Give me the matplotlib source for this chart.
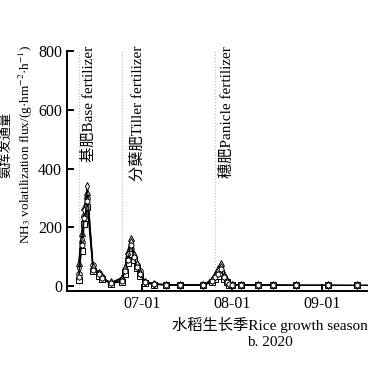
import numpy as np
import pandas as pd
import matplotlib
matplotlib.use('Agg')
import matplotlib.pyplot as plt
import matplotlib.dates as mdates

plt.rcParams['font.family'] = ['Liberation Serif', 'Noto Sans CJK SC']
plt.rcParams['mathtext.fontset'] = 'stix'

# sampling dates (2020 rice season)
dates = ['06-09', '06-10', '06-11', '06-12', '06-14', '06-16', '06-17', '06-20',
         '06-24', '06-25', '06-26', '06-27', '06-28', '06-29', '06-30', '07-02',
         '07-05', '07-09', '07-14', '07-22', '07-25', '07-26', '07-27', '07-28',
         '07-29', '07-30', '07-31', '08-01', '08-04', '08-10', '08-15', '08-23',
         '09-03', '09-13', '09-25', '10-08']

# NH3 flux of each treatment, g/(hm2·h)
flux_circle = [40, 150, 240, 300, 70, 45, 30, 10, 20, 55, 95, 125, 95, 70, 50, 15,
               8, 5, 3, 4, 15, 30, 45, 50, 30, 15, 6, 5, 5, 4, 3, 3, 3, 2, 2, 2]
flux_triangle = [80, 180, 270, 320, 60, 40, 25, 10, 30, 65, 120, 165, 110, 80, 40, 12,
                 6, 4, 3, 3, 25, 40, 60, 78, 40, 20, 8, 5, 4, 3, 3, 2, 2, 2, 2, 2]
flux_square = [20, 120, 210, 270, 50, 35, 25, 8, 15, 40, 80, 110, 90, 60, 35, 10,
               5, 4, 3, 3, 12, 25, 35, 45, 25, 12, 5, 4, 4, 3, 3, 2, 2, 2, 2, 2]
flux_diamond = [60, 160, 260, 340, 65, 45, 30, 12, 25, 60, 110, 150, 105, 75, 45, 14,
                7, 5, 3, 3, 20, 35, 50, 65, 35, 18, 7, 5, 4, 3, 3, 2, 2, 2, 2, 2]
flux_hexagon = [30, 140, 230, 290, 55, 40, 28, 9, 18, 50, 90, 140, 100, 65, 40, 12,
                6, 4, 3, 3, 18, 30, 40, 58, 30, 14, 6, 5, 4, 3, 3, 2, 2, 2, 2, 2]

series = [(flux_circle, 'o'), (flux_triangle, '^'), (flux_square, 's'),
          (flux_diamond, 'd'), (flux_hexagon, 'h')]

fert_dates = ['06-09', '06-24', '07-26']
fert_text_dates = ['06-12 12:00', '06-29 12:00', '07-30']
fert_labels = ['基肥Base fertilizer', '分蘖肥Tiller fertilizer', '穗肥Panicle fertilizer']

x = pd.to_datetime(['2020-' + d for d in dates])

fig = plt.figure(figsize=(3.68, 3.68), dpi=100)
ax = fig.add_axes([67 / 368, 77 / 368, 406 / 368, 240 / 368])

for vals, mk in series:
    ax.plot(x, vals, color='black', lw=0.8, marker=mk, ms=4,
            mfc='white', mec='black', mew=0.7)

for fd, td, lab in zip(fert_dates, fert_text_dates, fert_labels):
    ax.axvline(pd.Timestamp('2020-' + fd), color='#bbbbbb', ls=':', lw=0.8, zorder=0)
    ax.text(pd.Timestamp('2020-' + td), 818, lab, rotation=90, va='top', ha='center',
            fontsize=11, clip_on=False)

ax.set_xlim(pd.Timestamp('2020-06-05'), pd.Timestamp('2020-10-23'))
ax.set_ylim(-17, 800)
ax.set_yticks([0, 200, 400, 600, 800])
ax.xaxis.set_major_locator(mdates.MonthLocator(bymonth=[7, 8, 9, 10]))
ax.xaxis.set_major_formatter(mdates.DateFormatter('%m-%d'))

for s in ['top', 'right']:
    ax.spines[s].set_visible(False)
for s in ['left', 'bottom']:
    ax.spines[s].set_linewidth(1.4)
ax.tick_params(direction='in', length=5, width=1.4, labelsize=11.5)

ax.set_ylabel('氨挥发通量\nNH$_3$ volatilization flux/(g·hm$^{-2}$·h$^{-1}$)',
              fontsize=9.5, linespacing=1.4)
ax.yaxis.set_label_coords(-0.078, 0.61)
ax.set_xlabel('水稻生长季Rice growth season\nb. 2020', fontsize=11, linespacing=1.3)

plt.savefig('out.png', dpi=100)
